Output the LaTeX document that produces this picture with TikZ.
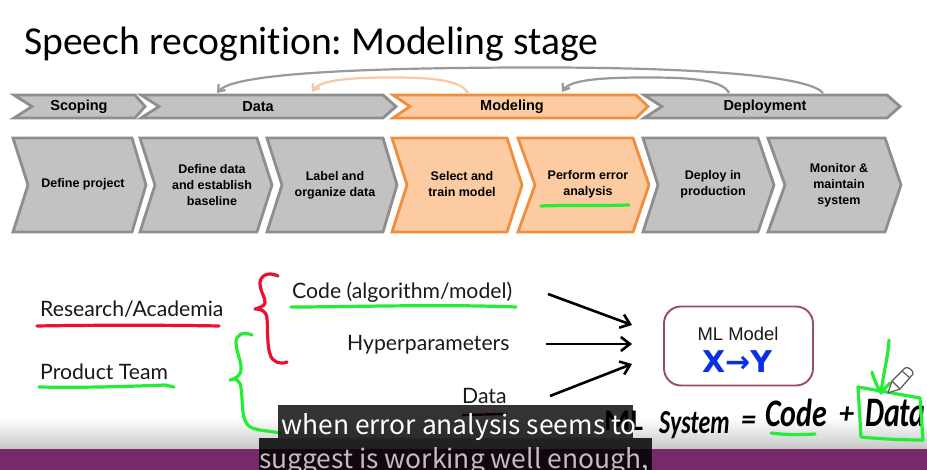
\documentclass[tikz,border=0pt]{standalone}
\usepackage{fontspec}
\setmainfont{Liberation Sans}
\newfontfamily\titlefont[RawFeature={-liga;-dlig}]{Carlito}
\newfontfamily\bodyfont{Lato}
\newfontfamily\handfont{Carlito}
\newfontfamily\subfont{Noto Sans CJK KR}
\newfontfamily\blufont{DejaVu Sans}
\usetikzlibrary{arrows.meta,shadings}
\definecolor{gfill}{HTML}{C2C2C2}
\definecolor{gline}{HTML}{8E8E8E}
\definecolor{ofill}{HTML}{FDCBA2}
\definecolor{oline}{HTML}{EF8F3E}
\definecolor{lorange}{HTML}{F7C9A6}
\definecolor{inkgreen}{HTML}{25EC35}
\definecolor{inkred}{HTML}{EE1030}
\definecolor{inkblue}{HTML}{0A30E6}
\definecolor{boxline}{HTML}{9B4A6B}
\definecolor{band}{HTML}{78296C}
\tikzset{
  greychev/.style={draw=gline,fill=gfill,line width=2.8pt,line join=miter,miter limit=10},
  orangechev/.style={draw=oline,fill=ofill,line width=2.8pt,line join=miter,miter limit=10},
  toplabel/.style={font=\fontsize{14.5}{16}\selectfont\bfseries,inner sep=0pt,text=black},
  steplabel/.style={font=\fontsize{12.5}{16}\selectfont\bfseries,align=center,inner sep=0pt,text=black},
  bodytext/.style={font=\bodyfont\fontsize{21.2}{24}\selectfont,anchor=base west,inner sep=0pt,text=black!90},
  greenink/.style={draw=inkgreen,line width=3.2pt,line cap=round,line join=round},
  redink/.style={draw=inkred,line width=3.2pt,line cap=round,line join=round},
  loop/.style={-{Straight Barb[length=6pt,width=9pt]},line width=2.2pt},
  inarrow/.style={-{Straight Barb[length=9pt,width=14pt,line width=2.6pt]},line width=2.6pt,draw=black},
  hand/.style={font=\handfont\itshape\bfseries\fontsize{30}{32}\selectfont,anchor=base west,inner sep=0pt,text=black},
  subtext/.style={font=\subfont\fontsize{26.4}{30}\selectfont,anchor=base west,inner sep=0pt,text=white}
}
\newcommand{\chevbox}[9]{%
  \draw[#8] (#2,#6) -- (#4,#6) -- (#5,{(#6+#7)/2}) -- (#4,#7) -- (#2,#7) -- (#3,{(#6+#7)/2}) -- cycle;
  \coordinate (#1) at (#4,#6);
  #9}
\begin{document}
\begin{tikzpicture}[x=1pt,y=-1pt]
\useasboundingbox (0,0) rectangle (927,470);
\begin{scope}
\clip (0,0) rectangle (927,470);
\fill[white] (0,0) rectangle (927,470);
\shade[top color=white,bottom color=black!22] (0,418) rectangle (927,449);
\fill[band] (0,449) rectangle (927,470);

\node[font=\titlefont\fontsize{39.6}{42}\selectfont,anchor=base west,inner sep=0pt] (title) at (24,54.5) {Speech recognition:\kern-3pt{} Modeling stage};

% top row
\chevbox{scoping}{14}{32}{135}{145}{95}{118}{greychev}{\node[toplabel] (scopingtxt) at (79,106.5) {Scoping};}
\chevbox{datahead}{141}{159}{383}{396}{95}{118}{greychev}{\node[toplabel] (datatxt) at (258,106.5) {Data};}
\chevbox{modelhead}{393}{410}{636}{648}{95}{118}{orangechev}{\node[toplabel] (modeltxt) at (512,106.5) {Modeling};}
\chevbox{deployhead}{644}{662}{887}{900}{95}{118}{greychev}{\node[toplabel] (deploytxt) at (765,106.5) {Deployment};}

% bottom row
\chevbox{s1}{13}{28}{132}{146}{138}{232}{greychev}{\node[steplabel] (s1txt) at (83,184.5) {Define project};}
\chevbox{s2}{140}{155}{257}{272}{138}{232}{greychev}{\node[steplabel] (s2txt) at (212,185.5) {Define data\\and establish\\baseline};}
\chevbox{s3}{267}{282}{383}{397}{138}{232}{greychev}{\node[steplabel] (s3txt) at (335,185.5) {Label and\\organize data};}
\chevbox{s4}{392}{407}{507}{522}{138}{232}{orangechev}{\node[steplabel] (s4txt) at (462,184.5) {Select and\\train model};}
\chevbox{s5}{518}{535}{633}{649}{138}{232}{orangechev}{\node[steplabel] (s5txt) at (588,184.5) {Perform error\\analysis};}
\chevbox{s6}{643}{658}{758}{774}{138}{232}{greychev}{\node[steplabel] (s6txt) at (713,184.5) {Deploy in\\production};}
\chevbox{s7}{768}{785}{885}{901}{138}{232}{greychev}{\node[steplabel] (s7txt) at (839,185.5) {Monitor \&\\maintain\\system};}

% loops
\coordinate (bigfrom) at (823,93);
\coordinate (bigto) at (217,93);
\coordinate (smallfrom) at (729,93);
\coordinate (smallto) at (562,92);
\coordinate (orfrom) at (468,93);
\coordinate (orto) at (312,92);
\draw[loop,draw=gline!90] (bigfrom) .. controls (805,72) and (650,67) .. (520,67.5) .. controls (380,68) and (235,72) .. (bigto);
\draw[loop,draw=gline!90] (smallfrom) .. controls (722,78) and (680,77.5) .. (645,77.5) .. controls (600,77.5) and (570,80) .. (smallto);
\draw[loop,draw=lorange] (orfrom) .. controls (460,78) and (420,77.5) .. (390,77.5) .. controls (350,77.5) and (320,80) .. (orto);

% green underline in chevron
\draw[greenink] (541,206) .. controls (565,205) and (600,206) .. (629,205);

% lower texts
\node[bodytext] (research) at (40,317) {Research/Academia};
\node[bodytext] (product) at (40,380) {Product Team};
\node[bodytext] (code) at (292,299) {Code (algorithm/model)};
\node[bodytext] (hyper) at (347,351) {Hyperparameters};
\node[bodytext] (datain) at (462,404) {Data};

\draw[redink] (37,326) .. controls (90,325) and (170,325) .. (219,326);
\draw[greenink] (39,387) .. controls (90,388) and (140,386) .. (165,385) -- (174,387);
\draw[greenink] (291,307) .. controls (350,307) and (440,304) .. (516,307);

\draw[redink] (278,276) .. controls (268,271) and (260,276) .. (260,283) .. controls (260,292) and (266,298) .. (265,303) .. controls (264,307) and (258,308) .. (255,309) .. controls (260,309) and (266,310) .. (267,318) .. controls (268,332) and (267,345) .. (270,354) .. controls (272,362) and (280,365) .. (287,362);
\draw[greenink] (252,335) .. controls (243,331) and (236,335) .. (236,342) .. controls (236,352) and (242,362) .. (241,370) .. controls (240,377) and (234,379) .. (230,380) .. controls (236,378) and (240,380) .. (241,388) .. controls (243,400) and (241,416) .. (247,424) .. controls (252,431) and (265,430) .. (280,433);

% ML model box
\node[draw=boxline,line width=1.9pt,rounded corners=17pt,minimum width=149pt,minimum height=79pt,inner sep=0pt] (mlbox) at (738.5,346) {};
\node[font=\fontsize{18.4}{20}\selectfont,inner sep=0pt,text=black!90] (mllabel) at (738,334) {ML Model};
\node[font=\blufont\bfseries\fontsize{30}{32}\selectfont,inner sep=0pt,text=inkblue] (xy) at (737,361.5) {X→Y};

% arrows into box
\coordinate (codeend) at (548,294);
\coordinate (hyperend) at (546,344);
\coordinate (dataend) at (550,396);
\coordinate (in1) at (632,325);
\coordinate (in2) at (632,344);
\coordinate (in3) at (632,364);
\draw[inarrow] (codeend) -- (in1);
\draw[inarrow] (hyperend) -- (in2);
\draw[inarrow] (dataend) -- (in3);

% handwriting
\draw[draw=black!70!red,line width=2.4pt] (462,415) -- (506,414);
\node[hand,font=\handfont\bfseries\fontsize{30}{32}\selectfont] (mlhand) at (604,431) {ML};
\node[hand,font=\handfont\itshape\bfseries\fontsize{24}{26}\selectfont] (system) at (659,433) {\scalebox{1}[1.4]{System}};
\node[hand] (eq) at (741,430) {=};
\node[hand] (codehand) at (765,426) {\scalebox{1}[1.3]{Code}};
\node[hand] (plus) at (839,424) {+};
\node[hand] (datahand) at (865,427) {\scalebox{1}[1.4]{Data}};
\draw[greenink] (771,433) .. controls (785,435) and (800,435) .. (815,434);

% green box & arrow
\draw[greenink] (858,387) -- (920,398) -- (923,440) .. controls (905,440) and (880,439) .. (861,437) -- (860,420) -- cycle;
\draw[greenink] (889,340) .. controls (888,358) and (883,375) .. (881,393);
\draw[greenink] (872,372) .. controls (875,382) and (878,388) .. (881,393) .. controls (884,389) and (887,386) .. (890,383);

% pencil
\draw[draw=black!65,fill=white,line width=1.2pt,line join=round] (888,393) -- (892,381) -- (905,368) .. controls (908,366) and (914,371) .. (913,374) -- (900,389) -- cycle;
\draw[draw=black!65,line width=1.1pt] (892,381) -- (900,389);
\draw[draw=black!65,line width=1.1pt] (902,371) -- (910,378);

% subtitles
\fill[black,fill opacity=0.8] (278,405) rectangle (633,438);
\fill[black,fill opacity=0.84] (259,438) rectangle (652,470);
\node[subtext] (sub1) at (281,435) {when error analysis seems to};
\node[subtext,text=white!75!black] (sub2) at (259,468) {suggest is working well enough,};
\end{scope}
\end{tikzpicture}
\end{document}
